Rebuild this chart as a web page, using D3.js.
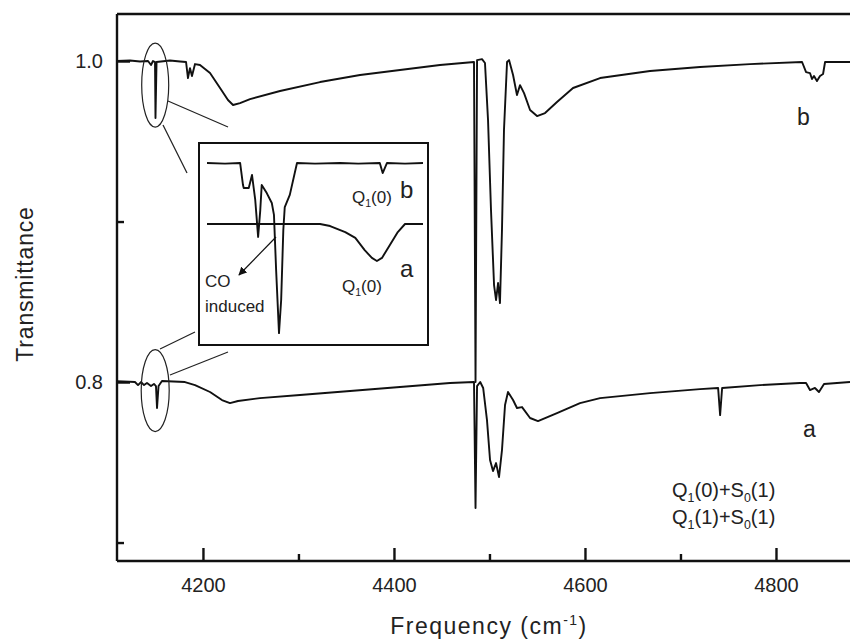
<!DOCTYPE html>
<html lang="en">
<head>
<meta charset="UTF-8">
<title>Transmittance spectra</title>
<script src="https://d3js.org/d3.v7.min.js"></script>
<style>
  body { margin: 0; background: #fff; }
  svg { display: block; font-family: "Liberation Sans", Arial, Helvetica, sans-serif; }
  .trace { fill: none; stroke: #111; stroke-width: 1.9; stroke-linejoin: round; }
  .axis path, .axis line { stroke: #111; stroke-width: 2.4; }
  .axis text { font-size: 20px; fill: #222; }
</style>
</head>
<body>
<svg width="850" height="643"></svg>
<script>
// spectrum b (upper)
var freqB = [4110, 4123.6, 4134.1, 4142.5, 4145.6, 4147.7, 4149.8, 4150.3, 4151.4, 4165.5, 4176, 4182.3, 4184.3, 4186.4, 4188.5, 4191.7, 4196.9, 4207.4, 4217.9, 4226.2, 4231.5, 4238.8, 4249.3, 4280.7, 4322.6, 4364.5, 4406.3, 4448.2, 4483.8, 4485.4, 4487, 4492.2, 4495.3, 4498.5, 4501.6, 4504.8, 4506.9, 4509, 4511, 4513.1, 4515.2, 4518.4, 4520.5, 4524.7, 4528.8, 4532, 4536.2, 4542.5, 4549.8, 4558.2, 4570.7, 4587.5, 4615.8, 4668.1, 4720.5, 4772.8, 4827.3, 4831.5, 4835.6, 4837.7, 4839.8, 4842.9, 4846.1, 4849.3, 4851.4, 4877.5]
var transB = [1.000, 1.0003, 0.9997, 1.000, 0.9975, 1.000, 0.9994, 0.9645, 0.9994, 1.0003, 0.9997, 0.9994, 0.9894, 0.9956, 0.9907, 0.9981, 0.9975, 0.9925, 0.9832, 0.9757, 0.9726, 0.9738, 0.9763, 0.9813, 0.9869, 0.9913, 0.9944, 0.9975, 0.9994, 0.800, 1.0006, 1.0012, 0.9988, 0.9632, 0.9072, 0.8604, 0.8511, 0.8617, 0.8492, 0.8947, 0.957, 0.9994, 1.0006, 0.9913, 0.9788, 0.985, 0.980, 0.9695, 0.9657, 0.9676, 0.9745, 0.9832, 0.9894, 0.9938, 0.9963, 0.9981, 0.9994, 0.9931, 0.9925, 0.9888, 0.9907, 0.9875, 0.9907, 0.9919, 0.9994, 0.9994]

// spectrum a (lower)
var freqA = [4110, 4128.8, 4132, 4135.1, 4138.3, 4141.4, 4145.6, 4148.7, 4150.8, 4151.9, 4153.5, 4157.1, 4181.2, 4191.7, 4207.4, 4219.9, 4228.3, 4236.7, 4259.7, 4301.6, 4354, 4406.3, 4458.7, 4483.8, 4485.4, 4487, 4490.3, 4493.4, 4497.4, 4500.6, 4503.7, 4506.9, 4510, 4513.1, 4516.3, 4519.4, 4524.7, 4528.8, 4534.1, 4542.5, 4550.8, 4570.7, 4594.8, 4615.8, 4668.1, 4720.5, 4739.4, 4741.5, 4743.6, 4783.3, 4825.1, 4831.5, 4835.6, 4840.8, 4845, 4850.3, 4877.5]
var transA = [0.8006, 0.800, 0.7981, 0.800, 0.7981, 0.7994, 0.7975, 0.7988, 0.7975, 0.7838, 0.7975, 0.8006, 0.800, 0.7981, 0.7938, 0.7888, 0.7869, 0.7882, 0.790, 0.7919, 0.7944, 0.7969, 0.7994, 0.800, 0.7215, 0.7975, 0.800, 0.7963, 0.7763, 0.7514, 0.7445, 0.7495, 0.7408, 0.7576, 0.7857, 0.7938, 0.7888, 0.7838, 0.7844, 0.7776, 0.7757, 0.7807, 0.7869, 0.790, 0.7931, 0.7956, 0.7963, 0.7794, 0.7963, 0.7981, 0.7994, 0.7994, 0.795, 0.7963, 0.7938, 0.7988, 0.800]

// inset, expanded view near 4150 cm-1 (relative transmittance)
var insetFreqB = [4135, 4137.5, 4139.6, 4140, 4140.1, 4140.8, 4141.25, 4141.7, 4142.1, 4142.4, 4142.6, 4143.3, 4144, 4144.3, 4144.6, 4145, 4145.3, 4145.6, 4145.8, 4146.5, 4147.5, 4150, 4153.5, 4156, 4159, 4159.4, 4160, 4162.5, 4165]
var insetB = [0.901, 0.898, 0.901, 0.792, 0.777, 0.777, 0.842, 0.718, 0.535, 0.668, 0.792, 0.752, 0.703, 0.644, 0.371, 0.059, 0.223, 0.569, 0.683, 0.743, 0.901, 0.898, 0.901, 0.898, 0.901, 0.851, 0.901, 0.898, 0.901]
var insetFreqA = [4135, 4150.7, 4152.1, 4154.2, 4155.6, 4156.9, 4157.9, 4158.6, 4159.3, 4160.4, 4161.5, 4162.5, 4165]
var insetA = [0.599, 0.599, 0.589, 0.559, 0.530, 0.470, 0.431, 0.416, 0.431, 0.495, 0.559, 0.599, 0.599]

var xMajor = [4200, 4400, 4600, 4800]
var xMinor = [4300, 4500, 4700]
var yMajor = [0.8, 1.0]
var yMinor = [0.7, 0.9]

var svg = d3.select('svg')
var pL = 117, pR = 850, pT = 14, pB = 561

var x = d3.scaleLinear().domain([4110, 4877.5]).range([pL, pR])
var y = d3.scaleLinear().domain([0.6885, 1.0293]).range([pB, pT])

function pairs(xs, ys) {
    return xs.map((v, i) => [v, ys[i]])
}

var line = d3.line().x(d => x(d[0])).y(d => y(d[1]))

// frame top
svg.append('line')
    .attr('x1', pL).attr('x2', pR)
    .attr('y1', pT).attr('y2', pT)
    .attr('stroke', '#111').attr('stroke-width', 2.4)

// axes, ticks pointing inward
var gx = svg.append('g').attr('class', 'axis')
    .attr('transform', `translate(0,${pB})`)
    .call(d3.axisBottom(x).tickValues(xMajor).tickSize(-13).tickPadding(17).tickFormat(d3.format('d')))
var gx2 = svg.append('g').attr('class', 'axis')
    .attr('transform', `translate(0,${pB})`)
    .call(d3.axisBottom(x).tickValues(xMinor).tickSize(-7).tickFormat(''))
var gy = svg.append('g').attr('class', 'axis')
    .attr('transform', `translate(${pL},0)`)
    .call(d3.axisLeft(y).tickValues(yMajor).tickSize(-13).tickPadding(14).tickFormat(d3.format('.1f')))
var gy2 = svg.append('g').attr('class', 'axis')
    .attr('transform', `translate(${pL},0)`)
    .call(d3.axisLeft(y).tickValues(yMinor).tickSize(-7).tickFormat(''))
gx.select('.domain').attr('d', `M${pL},0H${pR}`)
gx2.select('.domain').remove()
gy.select('.domain').attr('d', `M0,${pT}V${pB}`)
gy2.select('.domain').remove()

svg.append('path').datum(pairs(freqB, transB)).attr('class', 'trace').attr('d', line)
svg.append('path').datum(pairs(freqA, transA)).attr('class', 'trace').attr('d', line)

// ellipses around the 4150 band
var ell = svg.append('g').attr('fill', 'none').attr('stroke', '#222').attr('stroke-width', 1.2)
ell.append('ellipse').attr('cx', x(4150)).attr('cy', y(0.985)).attr('rx', 13.5).attr('ry', 42)
ell.append('ellipse').attr('cx', x(4150)).attr('cy', y(0.7947)).attr('rx', 14).attr('ry', 41)
var conn = [[168, 101, 228, 127], [163, 125, 187, 173], [170, 375, 228, 352], [160, 349, 195, 332]]
conn.forEach(c => {
    ell.append('line').attr('x1', c[0]).attr('y1', c[1]).attr('x2', c[2]).attr('y2', c[3])
})

// inset
var ix = d3.scaleLinear().domain([4135, 4165]).range([207, 423])
var iy = d3.scaleLinear().domain([0, 1]).range([345, 143])
var iline = d3.line().x(d => ix(d[0])).y(d => iy(d[1]))

svg.append('rect')
    .attr('x', 199).attr('y', 143).attr('width', 229).attr('height', 202)
    .attr('fill', '#fff').attr('stroke', '#111').attr('stroke-width', 2)
svg.append('path').datum(pairs(insetFreqB, insetB)).attr('class', 'trace').attr('d', iline)
svg.append('path').datum(pairs(insetFreqA, insetA)).attr('class', 'trace').attr('d', iline)

svg.append('defs').append('marker')
    .attr('id', 'head').attr('viewBox', '0 0 10 10')
    .attr('refX', 9).attr('refY', 5)
    .attr('markerWidth', 7).attr('markerHeight', 7)
    .attr('orient', 'auto')
    .append('path').attr('d', 'M0,0L10,5L0,10z').attr('fill', '#111')
svg.append('line')
    .attr('x1', 276).attr('y1', 237).attr('x2', 239).attr('y2', 275)
    .attr('stroke', '#111').attr('stroke-width', 1.2)
    .attr('marker-end', 'url(#head)')

// text with subscripts; parts flagged sub are lowered
function label(parts, px, py, size) {
    var t = svg.append('text').attr('x', px).attr('y', py)
        .attr('font-size', size).attr('fill', '#222')
    var shift = 0
    parts.forEach(part => {
        var want = part.sub ? size * 0.25 : 0
        var sp = t.append('tspan').attr('dy', want - shift).text(part.s)
        if (part.sub) sp.attr('font-size', size * 0.62)
        shift = want
    })
    return t
}

label([{ s: 'Q' }, { s: '1', sub: true }, { s: '(0)' }], 352, 203, 17)
label([{ s: 'b' }], 400, 198, 24)
label([{ s: 'Q' }, { s: '1', sub: true }, { s: '(0)' }], 342, 292, 17)
label([{ s: 'a' }], 400, 277, 24)
label([{ s: 'CO' }], 205, 287, 17)
label([{ s: 'induced' }], 205, 312, 17)

label([{ s: 'b' }], 797, 125, 23)
label([{ s: 'a' }], 803, 437, 23)
label([{ s: 'Q' }, { s: '1', sub: true }, { s: '(0)+S' }, { s: '0', sub: true }, { s: '(1)' }], 672, 497, 20)
label([{ s: 'Q' }, { s: '1', sub: true }, { s: '(1)+S' }, { s: '0', sub: true }, { s: '(1)' }], 672, 524, 20)

// axis titles
var xt = svg.append('text').attr('x', 489).attr('y', 634)
    .attr('text-anchor', 'middle').attr('font-size', 23).attr('fill', '#222')
    .attr('letter-spacing', 1.5)
xt.append('tspan').text('Frequency (cm')
xt.append('tspan').attr('font-size', 14).attr('dy', -9).text('-1')
xt.append('tspan').attr('dy', 9).text(')')

svg.append('text')
    .attr('transform', 'translate(33,284) rotate(-90)')
    .attr('text-anchor', 'middle').attr('font-size', 23).attr('fill', '#222')
    .attr('letter-spacing', 0.8)
    .text('Transmittance')
</script>
</body>
</html>
